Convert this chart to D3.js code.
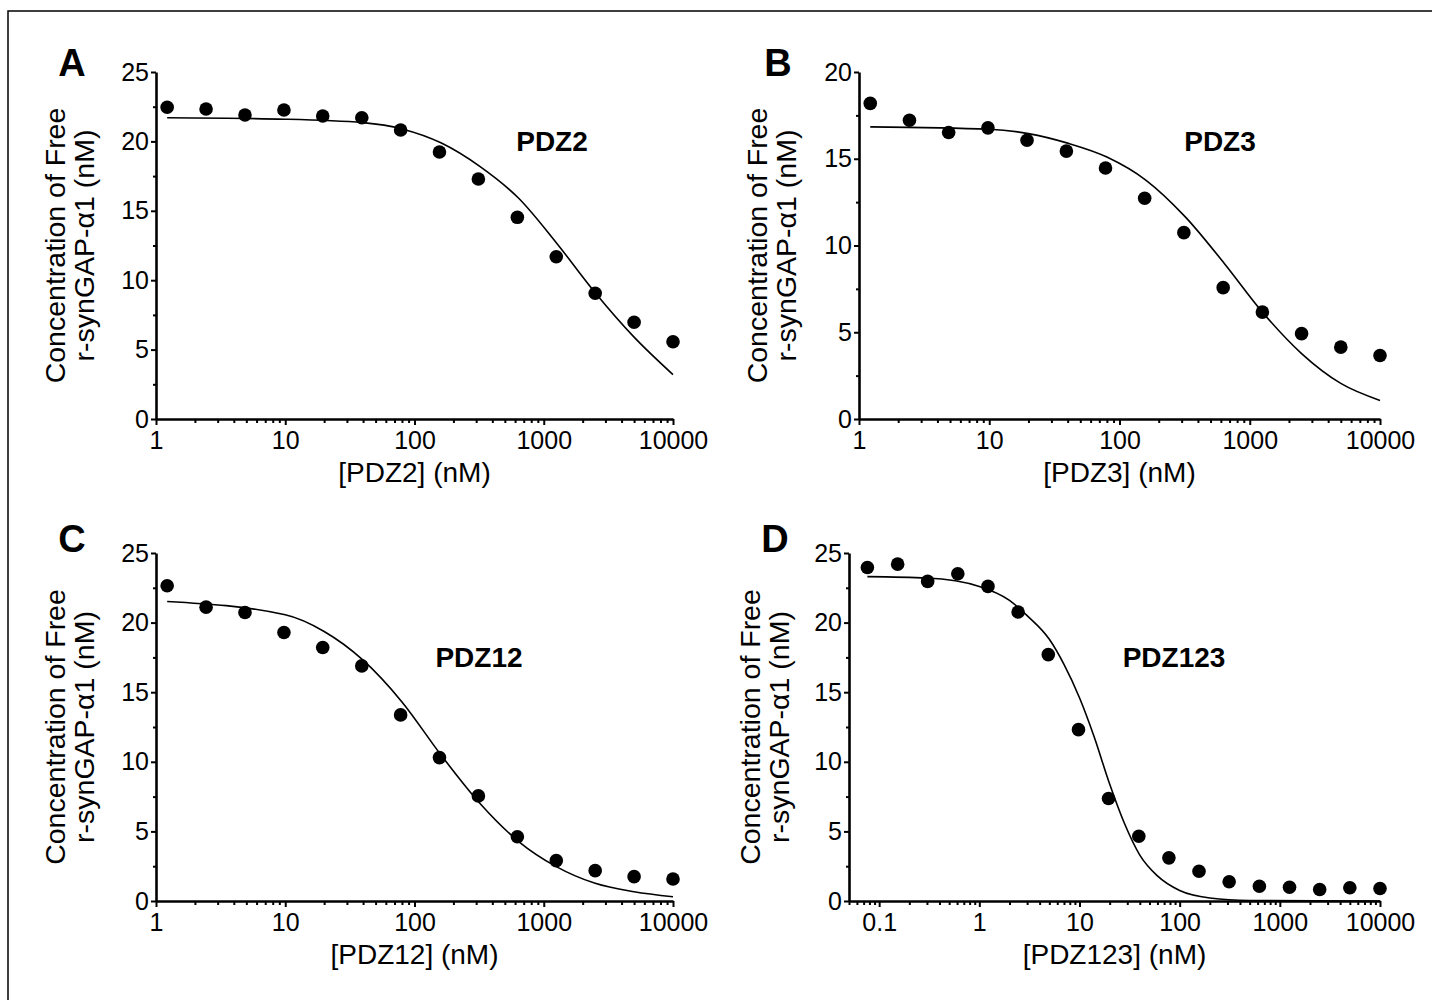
<!DOCTYPE html>
<html>
<head>
<meta charset="utf-8">
<script src="https://cdn.jsdelivr.net/npm/d3@7"></script>
<style>
  body { margin: 0; background: #fff; }
  svg { display: block; }
  text { font-family: "Liberation Sans", Arial, sans-serif; fill: #000; }
</style>
</head>
<body>
<svg id="chart"></svg>
<script>
// concentrations (nM), 2-fold dilutions
const xConc = [1.22, 2.44, 4.88, 9.77, 19.5, 39.1, 78.1, 156, 312, 625, 1250, 2500, 5000, 10000];
const xConcD = [0.0763, 0.153, 0.305, 0.61, 1.22, 2.44, 4.88, 9.77, 19.5, 39.1, 78.1, 156, 312, 625, 1250, 2500, 5000, 10000];

// free r-synGAP-a1 (nM)
const freeA = [22.46, 22.33, 21.9, 22.26, 21.83, 21.7, 20.82, 19.24, 17.29, 14.53, 11.69, 9.06, 6.97, 5.57];
const freeB = [18.19, 17.22, 16.51, 16.78, 16.07, 15.44, 14.47, 12.72, 10.74, 7.57, 6.16, 4.92, 4.14, 3.66];
const freeC = [22.65, 21.11, 20.73, 19.29, 18.21, 16.89, 13.37, 10.3, 7.55, 4.62, 2.9, 2.18, 1.75, 1.58];
const freeD = [23.96, 24.2, 22.96, 23.51, 22.6, 20.76, 17.7, 12.31, 7.36, 4.65, 3.1, 2.14, 1.38, 1.06, 0.99, 0.83, 0.95, 0.9];

// fitted curves
const fitAx = [1.22, 10, 40, 80, 160, 320, 640, 1250, 2500, 5000, 10000];
const fitAy = [21.7, 21.6, 21.35, 20.9, 19.9, 18.2, 15.9, 12.7, 9.1, 5.9, 3.2];
const fitBx = [1.22, 10, 20, 40, 80, 160, 320, 640, 1250, 2500, 5000, 10000];
const fitBy = [16.84, 16.7, 16.45, 15.9, 15.1, 13.76, 11.65, 8.95, 6.16, 3.77, 2.05, 1.07];
const fitCx = [1.22, 10, 20, 40, 80, 160, 320, 640, 1250, 2500, 5000, 10000];
const fitCy = [21.52, 20.56, 19.36, 17.3, 14.3, 10.5, 7.02, 4.27, 2.47, 1.27, 0.67, 0.31];
const fitDx = [0.0763, 0.3, 1, 2, 3, 5, 7, 10, 14, 20, 28, 40, 60, 100, 200, 500, 10000];
const fitDy = [23.3, 23.2, 22.6, 21.6, 20.5, 18.8, 17.0, 14.6, 11.8, 8.4, 5.6, 3.3, 1.8, 0.75, 0.22, 0.04, 0];

const xMajor = [1, 10, 100, 1000, 10000];
const xMajorD = [0.1, 1, 10, 100, 1000, 10000];
const yMajor25 = [0, 5, 10, 15, 20, 25];
const yMajor20 = [0, 5, 10, 15, 20];

const W = 1432, H = 1000;
const svg = d3.select("#chart").attr("width", W).attr("height", H);

svg.append("rect")
    .attr("x", 8).attr("y", 11)
    .attr("width", W + 20).attr("height", H + 20)
    .attr("fill", "none").attr("stroke", "#000").attr("stroke-width", 1.5);

function minorLog(domain, majors) {
    const out = [];
    for (let e = Math.floor(Math.log10(domain[0])); e <= Math.ceil(Math.log10(domain[1])); e++) {
        for (let k = 1; k <= 9; k++) {
            const v = k * Math.pow(10, e);
            if (v >= domain[0] && v <= domain[1] && !majors.includes(+v.toPrecision(6))) out.push(v);
        }
    }
    return out;
}

function drawPanel(p) {
    const g = svg.append("g");
    const x = d3.scaleLog().domain(p.xDomain).range([p.left, p.right]);
    const y = d3.scaleLinear().domain([0, p.yMax]).range([p.bottom, p.top]);

    // x axis
    g.append("g").attr("transform", `translate(0,${p.bottom})`)
        .call(d3.axisBottom(x).tickValues(p.xTicks).tickSize(6).tickSizeOuter(0).tickPadding(6)
            .tickFormat(d => d3.format("~g")(d)));
    g.append("g").attr("transform", `translate(0,${p.bottom})`)
        .call(d3.axisBottom(x).tickValues(minorLog(p.xDomain, p.xTicks)).tickSize(4).tickFormat(""))
        .call(s => s.select(".domain").remove());

    // y axis
    g.append("g").attr("transform", `translate(${p.left},0)`)
        .call(d3.axisLeft(y).tickValues(p.yTicks).tickSize(5).tickSizeOuter(0).tickPadding(2));
    g.append("g").attr("transform", `translate(${p.left},0)`)
        .call(d3.axisLeft(y).tickValues(d3.range(2.5, p.yMax, 5)).tickSize(3).tickFormat(""))
        .call(s => s.select(".domain").remove());

    g.selectAll(".domain").attr("stroke-width", 2.6).attr("stroke", "#000");
    g.selectAll(".tick line").attr("stroke-width", 2).attr("stroke", "#000");
    g.selectAll(".tick text").attr("font-size", 25).attr("font-family", "'Liberation Sans', Arial, sans-serif");

    // fitted curve
    const fit = p.fitX.map((v, i) => [v, p.fitY[i]]);
    g.append("path").datum(fit)
        .attr("fill", "none").attr("stroke", "#000").attr("stroke-width", 1.6)
        .attr("d", d3.line().x(d => x(d[0])).y(d => y(d[1])).curve(d3.curveMonotoneX));

    // points
    g.selectAll("circle.pt").data(p.xData.map((v, i) => [v, p.yData[i]]))
        .join("circle").attr("class", "pt")
        .attr("cx", d => x(d[0])).attr("cy", d => y(d[1])).attr("r", 6.8).attr("fill", "#000");

    // labels
    g.append("text").attr("x", p.letterX).attr("y", p.letterY)
        .attr("text-anchor", "middle").attr("font-size", 38).attr("font-weight", "bold").text(p.letter);
    g.append("text").attr("x", p.nameX).attr("y", p.nameY)
        .attr("text-anchor", "middle").attr("font-size", 28).attr("font-weight", "bold").text(p.name);
    g.append("text").attr("x", (p.left + p.right) / 2).attr("y", p.bottom + 63)
        .attr("text-anchor", "middle").attr("font-size", 28).text(p.xTitle);
    const cy = (p.top + p.bottom) / 2;
    [["Concentration of Free", p.ylab1], ["r-synGAP-\u03b11 (nM)", p.ylab2]].forEach(([t, lx]) => {
        g.append("text").attr("transform", `translate(${lx},${cy}) rotate(-90)`)
            .attr("text-anchor", "middle").attr("font-size", 28.5).text(t);
    });
}

drawPanel({
    letter: "A", letterX: 72, letterY: 76, name: "PDZ2", nameX: 552, nameY: 151, xTitle: "[PDZ2] (nM)",
    left: 156, right: 673, top: 72, bottom: 419, xDomain: [1, 10000], xTicks: xMajor,
    yMax: 25, yTicks: yMajor25, xData: xConc, yData: freeA, fitX: fitAx, fitY: fitAy, ylab1: 65, ylab2: 94
});
drawPanel({
    letter: "B", letterX: 778, letterY: 76, name: "PDZ3", nameX: 1220, nameY: 151, xTitle: "[PDZ3] (nM)",
    left: 859, right: 1380, top: 72, bottom: 419, xDomain: [1, 10000], xTicks: xMajor,
    yMax: 20, yTicks: yMajor20, xData: xConc, yData: freeB, fitX: fitBx, fitY: fitBy, ylab1: 767, ylab2: 796
});
drawPanel({
    letter: "C", letterX: 72, letterY: 552, name: "PDZ12", nameX: 479, nameY: 667, xTitle: "[PDZ12] (nM)",
    left: 156, right: 673, top: 553, bottom: 901, xDomain: [1, 10000], xTicks: xMajor,
    yMax: 25, yTicks: yMajor25, xData: xConc, yData: freeC, fitX: fitCx, fitY: fitCy, ylab1: 65, ylab2: 94
});
drawPanel({
    letter: "D", letterX: 775, letterY: 552, name: "PDZ123", nameX: 1174, nameY: 667, xTitle: "[PDZ123] (nM)",
    left: 849, right: 1380, top: 553, bottom: 901, xDomain: [0.05, 10000], xTicks: xMajorD,
    yMax: 25, yTicks: yMajor25, xData: xConcD, yData: freeD, fitX: fitDx, fitY: fitDy, ylab1: 760, ylab2: 789
});
</script>
</body>
</html>
